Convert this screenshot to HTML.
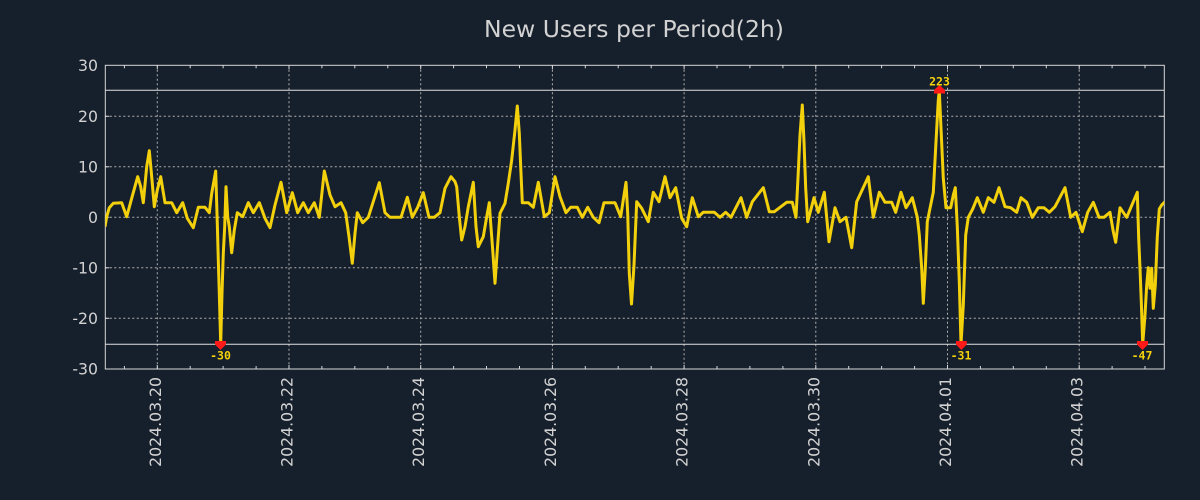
<!DOCTYPE html>
<html>
<head>
<meta charset="utf-8">
<style>
  html,body{margin:0;padding:0;background:#161f2c;}
  body{width:1200px;height:500px;overflow:hidden;}
  svg{display:block;}
  .lbl{font-family:"DejaVu Sans","Liberation Sans",sans-serif;fill:#d2d2d2;}
  .ann{font-family:"DejaVu Sans Mono","Liberation Mono",monospace;font-weight:bold;fill:#f5d20a;font-size:11.5px;}
</style>
</head>
<body>
<svg width="1200" height="500" viewBox="0 0 1200 500" xmlns="http://www.w3.org/2000/svg">
  <rect x="0" y="0" width="1200" height="500" fill="#161f2c"/>
  <defs>
    <clipPath id="plot"><rect x="105.3" y="65.3" width="1059" height="303.7"/></clipPath>
  </defs>

  <!-- title -->
  <text class="lbl" x="634" y="37" font-size="23.5" text-anchor="middle">New Users per Period(2h)</text>

  <!-- grid -->
  <g stroke="#b0b0b0" stroke-width="1" stroke-dasharray="2,2.5" fill="none">
    <line x1="105.3" y1="116.3" x2="1164.3" y2="116.3"/>
    <line x1="105.3" y1="166.8" x2="1164.3" y2="166.8"/>
    <line x1="105.3" y1="217.3" x2="1164.3" y2="217.3"/>
    <line x1="105.3" y1="267.8" x2="1164.3" y2="267.8"/>
    <line x1="105.3" y1="318.3" x2="1164.3" y2="318.3"/>
    <line x1="157.3" y1="65.3" x2="157.3" y2="369"/>
    <line x1="289" y1="65.3" x2="289" y2="369"/>
    <line x1="420.7" y1="65.3" x2="420.7" y2="369"/>
    <line x1="552.4" y1="65.3" x2="552.4" y2="369"/>
    <line x1="684.1" y1="65.3" x2="684.1" y2="369"/>
    <line x1="815.8" y1="65.3" x2="815.8" y2="369"/>
    <line x1="947.5" y1="65.3" x2="947.5" y2="369"/>
    <line x1="1079.2" y1="65.3" x2="1079.2" y2="369"/>
  </g>

  <!-- threshold lines -->
  <g stroke="#e0e0e0" stroke-width="1">
    <line x1="105.3" y1="90.3" x2="1164.3" y2="90.3"/>
    <line x1="105.3" y1="344.2" x2="1164.3" y2="344.2"/>
  </g>

  <!-- border -->
  <rect x="105.3" y="65.3" width="1059" height="303.7" fill="none" stroke="#d8d8d8" stroke-width="1"/>

  <!-- ticks -->
  <g stroke="#d8d8d8" stroke-width="1">
    <line x1="124.4" y1="369" x2="124.4" y2="366"/><line x1="124.4" y1="65.3" x2="124.4" y2="68.3"/>
    <line x1="157.3" y1="369" x2="157.3" y2="365"/><line x1="157.3" y1="65.3" x2="157.3" y2="69.3"/>
    <line x1="190.2" y1="369" x2="190.2" y2="366"/><line x1="190.2" y1="65.3" x2="190.2" y2="68.3"/>
    <line x1="223.1" y1="369" x2="223.1" y2="366"/><line x1="223.1" y1="65.3" x2="223.1" y2="68.3"/>
    <line x1="256.1" y1="369" x2="256.1" y2="366"/><line x1="256.1" y1="65.3" x2="256.1" y2="68.3"/>
    <line x1="289" y1="369" x2="289" y2="365"/><line x1="289" y1="65.3" x2="289" y2="69.3"/>
    <line x1="321.9" y1="369" x2="321.9" y2="366"/><line x1="321.9" y1="65.3" x2="321.9" y2="68.3"/>
    <line x1="354.8" y1="369" x2="354.8" y2="366"/><line x1="354.8" y1="65.3" x2="354.8" y2="68.3"/>
    <line x1="387.8" y1="369" x2="387.8" y2="366"/><line x1="387.8" y1="65.3" x2="387.8" y2="68.3"/>
    <line x1="420.7" y1="369" x2="420.7" y2="365"/><line x1="420.7" y1="65.3" x2="420.7" y2="69.3"/>
    <line x1="453.6" y1="369" x2="453.6" y2="366"/><line x1="453.6" y1="65.3" x2="453.6" y2="68.3"/>
    <line x1="486.5" y1="369" x2="486.5" y2="366"/><line x1="486.5" y1="65.3" x2="486.5" y2="68.3"/>
    <line x1="519.5" y1="369" x2="519.5" y2="366"/><line x1="519.5" y1="65.3" x2="519.5" y2="68.3"/>
    <line x1="552.4" y1="369" x2="552.4" y2="365"/><line x1="552.4" y1="65.3" x2="552.4" y2="69.3"/>
    <line x1="585.3" y1="369" x2="585.3" y2="366"/><line x1="585.3" y1="65.3" x2="585.3" y2="68.3"/>
    <line x1="618.2" y1="369" x2="618.2" y2="366"/><line x1="618.2" y1="65.3" x2="618.2" y2="68.3"/>
    <line x1="651.2" y1="369" x2="651.2" y2="366"/><line x1="651.2" y1="65.3" x2="651.2" y2="68.3"/>
    <line x1="684.1" y1="369" x2="684.1" y2="365"/><line x1="684.1" y1="65.3" x2="684.1" y2="69.3"/>
    <line x1="717" y1="369" x2="717" y2="366"/><line x1="717" y1="65.3" x2="717" y2="68.3"/>
    <line x1="749.9" y1="369" x2="749.9" y2="366"/><line x1="749.9" y1="65.3" x2="749.9" y2="68.3"/>
    <line x1="782.9" y1="369" x2="782.9" y2="366"/><line x1="782.9" y1="65.3" x2="782.9" y2="68.3"/>
    <line x1="815.8" y1="369" x2="815.8" y2="365"/><line x1="815.8" y1="65.3" x2="815.8" y2="69.3"/>
    <line x1="848.7" y1="369" x2="848.7" y2="366"/><line x1="848.7" y1="65.3" x2="848.7" y2="68.3"/>
    <line x1="881.6" y1="369" x2="881.6" y2="366"/><line x1="881.6" y1="65.3" x2="881.6" y2="68.3"/>
    <line x1="914.6" y1="369" x2="914.6" y2="366"/><line x1="914.6" y1="65.3" x2="914.6" y2="68.3"/>
    <line x1="947.5" y1="369" x2="947.5" y2="365"/><line x1="947.5" y1="65.3" x2="947.5" y2="69.3"/>
    <line x1="980.4" y1="369" x2="980.4" y2="366"/><line x1="980.4" y1="65.3" x2="980.4" y2="68.3"/>
    <line x1="1013.3" y1="369" x2="1013.3" y2="366"/><line x1="1013.3" y1="65.3" x2="1013.3" y2="68.3"/>
    <line x1="1046.3" y1="369" x2="1046.3" y2="366"/><line x1="1046.3" y1="65.3" x2="1046.3" y2="68.3"/>
    <line x1="1079.2" y1="369" x2="1079.2" y2="365"/><line x1="1079.2" y1="65.3" x2="1079.2" y2="69.3"/>
    <line x1="1112.1" y1="369" x2="1112.1" y2="366"/><line x1="1112.1" y1="65.3" x2="1112.1" y2="68.3"/>
    <line x1="1145" y1="369" x2="1145" y2="366"/><line x1="1145" y1="65.3" x2="1145" y2="68.3"/>
    <!-- y ticks -->
    <line x1="105.3" y1="116.3" x2="109.3" y2="116.3"/><line x1="1164.3" y1="116.3" x2="1159.3" y2="116.3"/>
    <line x1="105.3" y1="166.8" x2="109.3" y2="166.8"/><line x1="1164.3" y1="166.8" x2="1159.3" y2="166.8"/>
    <line x1="105.3" y1="217.3" x2="109.3" y2="217.3"/><line x1="1164.3" y1="217.3" x2="1159.3" y2="217.3"/>
    <line x1="105.3" y1="267.8" x2="109.3" y2="267.8"/><line x1="1164.3" y1="267.8" x2="1159.3" y2="267.8"/>
    <line x1="105.3" y1="318.3" x2="109.3" y2="318.3"/><line x1="1164.3" y1="318.3" x2="1159.3" y2="318.3"/>
  </g>

  <!-- y labels -->
  <g class="lbl" font-size="15.7" text-anchor="end">
    <text x="98" y="71">30</text>
    <text x="98" y="122">20</text>
    <text x="98" y="172.5">10</text>
    <text x="98" y="223">0</text>
    <text x="98" y="273.5">-10</text>
    <text x="98" y="324">-20</text>
    <text x="98" y="374.5">-30</text>
  </g>

  <!-- x labels -->
  <g class="lbl" font-size="15.7" text-anchor="end">
    <text transform="translate(160.8,377) rotate(-90)">2024.03.20</text>
    <text transform="translate(292.5,377) rotate(-90)">2024.03.22</text>
    <text transform="translate(424.2,377) rotate(-90)">2024.03.24</text>
    <text transform="translate(555.9,377) rotate(-90)">2024.03.26</text>
    <text transform="translate(687.6,377) rotate(-90)">2024.03.28</text>
    <text transform="translate(819.3,377) rotate(-90)">2024.03.30</text>
    <text transform="translate(951,377) rotate(-90)">2024.04.01</text>
    <text transform="translate(1082.7,377) rotate(-90)">2024.04.03</text>
  </g>

  <!-- series -->
  <g clip-path="url(#plot)">
  <polyline fill="none" stroke="#f2d00c" stroke-width="3" stroke-linejoin="round" stroke-linecap="butt" points="
105,226.7 106.7,216.7 109.3,207.7 113.3,203.3 121.7,202.7 126.7,216.7 131.7,198.3 137.7,176.7 140.7,186.7 143.3,202.7
146.7,166.7 149.3,150.7 151.7,176.7 154.3,206.7 157.3,190 160.7,176.7 165,202.7 171.7,202.7 176.7,212.7 182.7,202.7
187.3,218.3 193.3,227.7 198.3,207.3 205,207.3 209.3,212.7 211.7,193.3 215.7,171 217.3,223.3 218.3,260 219.3,293.3
220.7,344 222,293.3 223.3,253.3 224.7,226.7 226,186.7 227.7,216.7 229.3,226.7 231.7,252.7 234.3,230 237.3,212.7
242.7,216.7 248.3,202.7 253.3,212.7 259.3,202.7 265,218.3 270,227.7 275,205 281,182.3 286.7,212.7 292.3,192.7
297.7,212.7 303.3,202.7 308.3,212.7 314.3,202.7 319.3,217.3 324.3,171 330,195 335,206.7 341,202.7 345.7,212.7
349,236.7 352.3,263.3 355,233.3 357.3,212.7 362.7,222.7 368.3,217.3 374,199.3 379.3,182.7 385,212.7 390,217.3
401,217.3 407.3,197.3 412.3,217.3 417.7,207.3 423.3,192.7 429,217.3 434.3,217.3 440,212.7 445,188.3 451,176.7
455,181.7 456.7,186.7 459.3,216.7 461.7,240 465,226.7 468.3,206.7 473.3,182.3 476,226.7 478.3,246.7 483.3,236.7
486.7,216.7 489.3,202.7 490.7,223.3 492.7,250 495,283.3 497.3,250 500,213.3 505,203.3 508.3,183.3 511.7,160
515,130 517.3,106 519.3,133.3 521,173.3 522.3,202.7 528.3,202.7 533.3,207.3 538.3,182.3 544.3,216.7 549.3,212.7
555,176.7 560,196.7 566,212.7 570.7,207.3 577.3,207.3 582.3,217.3 587.7,207.3 593.3,217.3 599,222.7 604,202.7
615,202.7 620.7,216.7 626,182.3 627.7,213.3 629.3,273.3 631.5,304 634,265 636.7,201.7 641.7,208.3 648.3,221.7
653.3,192.3 659,201.7 665,176.7 670,197.7 675.7,187.7 681.7,218.3 686.7,226.7 692.3,197.7 698.3,216.7 703.3,212.3
714.3,212.3 720,217.3 725.7,212.3 731,217.3 741,197.7 746.7,217.3 752.3,201.7 763.3,187.7 769.3,211.7 774.3,211.7
786.7,202.3 792.3,202.3 796,217.3 798.3,171.7 800,135 802.3,105 804,141.7 805.7,188.3 807.7,221.7 814,197.7
818.3,212.3 824.3,192.3 829,241.7 835,207.7 840,221.7 846,217.3 851.7,247.7 856.7,201.7 868.3,176.7 873.3,217.3
879.3,192.3 885,202.3 891.7,202.3 895.7,212.3 901,192.3 906,207.7 912.3,197.7 917.3,217.3 919.3,235 921.7,268.3
923.3,303.3 925.3,268.3 927.3,221.7 930,208.3 933.3,192.3 936,141.7 938.3,100 939.3,90.5 940.7,121.7 943.3,178.3
946,207.7 950.7,207.7 953.3,195 955.3,187.7 957.3,226.7 959.3,281.7 961,344 963.3,305 965.7,235 968.3,217.3
972.7,209 977.3,197.7 983.3,212.3 988.3,197.7 994,202.3 999,187.7 1005,206.7 1010.7,207.7 1016.7,212.3 1021,197.7
1026.7,202.3 1032.3,217.3 1038.3,207.7 1044,207.7 1049.3,212.3 1055,206.7 1065,187.7 1070.7,217.3 1076,212.3 1082.3,231.7
1087.7,212.3 1093.3,202.3 1099,217.3 1104,217.3 1110,212.3 1113.3,231.7 1115.7,242.3 1120,207.7 1126.7,217.3 1137.3,192.3
1138.7,238.3 1140,268.3 1141.3,301.7 1142.7,344 1145,315 1146.7,285 1148.3,267.7 1150,288.3 1151.7,268.3 1153.3,308.3
1155.3,285 1157.3,236.7 1159.3,209 1161.7,205 1165,201.7"/>
  </g>

  <!-- clip markers -->
  <g fill="#ff1a1a">
    <polygon points="215,341 226,341 226,344.5 220.5,350 215,344.5"/>
    <polygon points="956,341 966.7,341 966.7,344.5 961.3,350 956,344.5"/>
    <polygon points="1137,341 1148,341 1148,344.5 1142.5,350 1137,344.5"/>
    <polygon points="934,93.5 945,93.5 945,90 939.5,85 934,90"/>
  </g>
  <text class="ann" x="220.5" y="359.3" text-anchor="middle">-30</text>
  <text class="ann" x="961" y="359.3" text-anchor="middle">-31</text>
  <text class="ann" x="1142" y="359.3" text-anchor="middle">-47</text>
  <text class="ann" x="939.5" y="85.3" text-anchor="middle">223</text>
</svg>
</body>
</html>
